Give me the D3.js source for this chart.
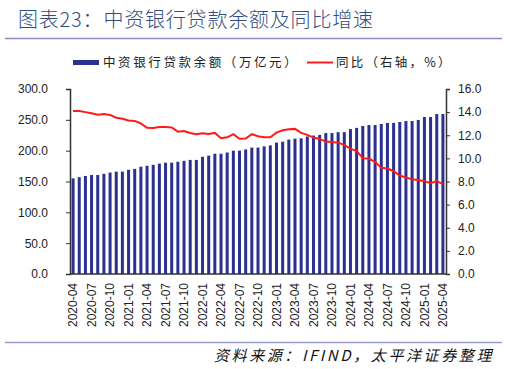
<!DOCTYPE html>
<html>
<head>
<meta charset="utf-8">
<title>中资银行贷款余额及同比增速</title>
<script src="https://d3js.org/d3.v7.min.js"></script>
<style>
  body { margin: 0; background: #fff; }
  svg { display: block; }
  .cjk { font-family: "Noto Sans CJK SC", sans-serif; }
  .axis text { font-family: "Liberation Sans", Arial, sans-serif; font-size: 12px; fill: #222; }
</style>
</head>
<body>
<div id="chart"></div>
<script>
// Mois (2020-04 -> 2025-04)
const months = [];
for (let y = 2020; y <= 2025; y++) {
  for (let m = 1; m <= 12; m++) {
    if ((y === 2020 && m < 4) || (y === 2025 && m > 4)) continue;
    months.push(y + "-" + String(m).padStart(2, "0"));
  }
}
// Libellés affichés sur l'axe des x (un sur trois)
const tickLabels = months.filter((d, i) => i % 3 === 0);

// 中资银行贷款余额（万亿元）
const loanBalance = [
  155, 157, 159, 160.5, 160.5, 162.5, 164.5, 166, 166, 169,
  170.5, 174, 175.5, 177, 179, 180.5, 180.5, 182, 183.5, 185,
  185, 190, 192, 195, 195, 197, 200, 200, 202, 205,
  205, 207, 208.5, 213, 214.5, 218, 219.5, 220, 223, 224.5,
  225.5, 228.5, 228.5, 230, 230, 235, 237, 240, 241.5, 241.5,
  243.2, 245, 245, 246.5, 248, 248, 249.7, 254.6, 254.6, 259.4, 259.4
];
// 同比（右轴，%）
const yoyGrowth = [
  14.1, 14.1, 14.0, 13.9, 13.78, 13.83, 13.76, 13.52, 13.42, 13.27,
  13.24, 13.02, 12.64, 12.62, 12.72, 12.72, 12.68, 12.31, 12.37, 12.2,
  12.09, 12.17, 12.11, 12.2, 11.75, 11.82, 12.09, 11.7, 11.72, 12.09,
  11.92, 11.83, 11.83, 12.23, 12.43, 12.52, 12.55, 12.2, 12.03, 11.8,
  11.68, 11.45, 11.42, 11.36, 11.17, 10.82, 10.65, 10.02, 9.96, 9.7,
  9.18, 9.12, 8.89, 8.52, 8.34, 8.2, 8.12, 8.03, 7.86, 8.03, 7.77
];
const leftTicks = [0, 50, 100, 150, 200, 250, 300];
const rightTicks = [0, 2, 4, 6, 8, 10, 12, 14, 16];

const W = 507, H = 369;
const margin = { left: 70, right: 446, top: 89, bottom: 274 };
const barColor = "#2b3190", lineColor = "#ff1a1a";

const svg = d3.select("#chart").append("svg")
  .attr("width", W).attr("height", H);

// Titre
svg.append("text").attr("class", "cjk")
  .attr("x", 18).attr("y", 27)
  .attr("font-size", 20).attr("font-weight", 300)
  .attr("letter-spacing", 0.8).attr("fill", "#2f4d7e")
  .text("图表23：中资银行贷款余额及同比增速");
svg.append("line")
  .attr("x1", 5).attr("x2", 502).attr("y1", 38.5).attr("y2", 38.5)
  .attr("stroke", "#8c8cc0").attr("stroke-width", 1.5);

// Échelles
const x = d3.scaleBand().domain(months).range([margin.left, margin.right]).padding(0);
const yL = d3.scaleLinear().domain([0, 300]).range([margin.bottom, margin.top]);
const yR = d3.scaleLinear().domain([0, 16]).range([margin.bottom, margin.top]);
const barW = 3;

// Barres
svg.append("g").selectAll("rect")
  .data(months)
  .enter().append("rect")
  .attr("x", (d) => x(d) + x.bandwidth() / 2 - barW / 2)
  .attr("y", (d, i) => yL(loanBalance[i]))
  .attr("width", barW)
  .attr("height", (d, i) => yL(0) - yL(loanBalance[i]))
  .attr("fill", barColor);

// Courbe
const line = d3.line()
  .x((d, i) => x(months[i]) + x.bandwidth() / 2)
  .y((d) => yR(d));
svg.append("path")
  .datum(yoyGrowth)
  .attr("d", line)
  .attr("fill", "none")
  .attr("stroke", lineColor)
  .attr("stroke-width", 2);

// Axes
const axL = svg.append("g").attr("class", "axis")
  .attr("transform", `translate(${margin.left},0)`)
  .call(d3.axisLeft(yL).tickValues(leftTicks).tickFormat(d3.format(".1f")).tickSize(4).tickPadding(18));
const axR = svg.append("g").attr("class", "axis")
  .attr("transform", `translate(${margin.right},0)`)
  .call(d3.axisRight(yR).tickValues(rightTicks).tickFormat(d3.format(".1f")).tickSize(4).tickPadding(8));
const axB = svg.append("g").attr("class", "axis")
  .attr("transform", `translate(0,${margin.bottom})`)
  .call(d3.axisBottom(x).tickValues(tickLabels).tickSize(0).tickPadding(0));
[axL, axR, axB].forEach(a => {
  a.select(".domain").attr("stroke", "#333").attr("stroke-width", 1.5);
  a.selectAll(".tick line").attr("stroke", "#333");
});
axB.select(".domain").attr("d", `M${margin.left},0H${margin.right}`);
axB.selectAll(".tick text")
  .attr("font-size", 11)
  .attr("text-anchor", "end")
  .attr("transform", "rotate(-90)")
  .attr("x", -9).attr("y", 0).attr("dy", "0.35em");

// Légende
const lg = svg.append("g").attr("class", "cjk").attr("font-size", 12.5).attr("fill", "#222");
lg.append("rect").attr("x", 73).attr("y", 60).attr("width", 26).attr("height", 5).attr("fill", barColor);
lg.append("text").attr("x", 103).attr("y", 67).attr("letter-spacing", 2.6).text("中资银行贷款余额（万亿元）");
lg.append("line").attr("x1", 307).attr("x2", 333).attr("y1", 62.5).attr("y2", 62.5)
  .attr("stroke", lineColor).attr("stroke-width", 2);
lg.append("text").attr("x", 336).attr("y", 67).attr("letter-spacing", 2.2).text("同比（右轴，%）");

// Source
svg.append("line")
  .attr("x1", 5).attr("x2", 502).attr("y1", 342.5).attr("y2", 342.5)
  .attr("stroke", "#9a9acc").attr("stroke-width", 1.5);
svg.append("text").attr("class", "cjk")
  .attr("x", 494).attr("y", 361)
  .attr("text-anchor", "end")
  .attr("font-size", 15).attr("font-style", "italic")
  .attr("letter-spacing", 2.6).attr("fill", "#111")
  .text("资料来源：IFIND，太平洋证券整理");
</script>
</body>
</html>
